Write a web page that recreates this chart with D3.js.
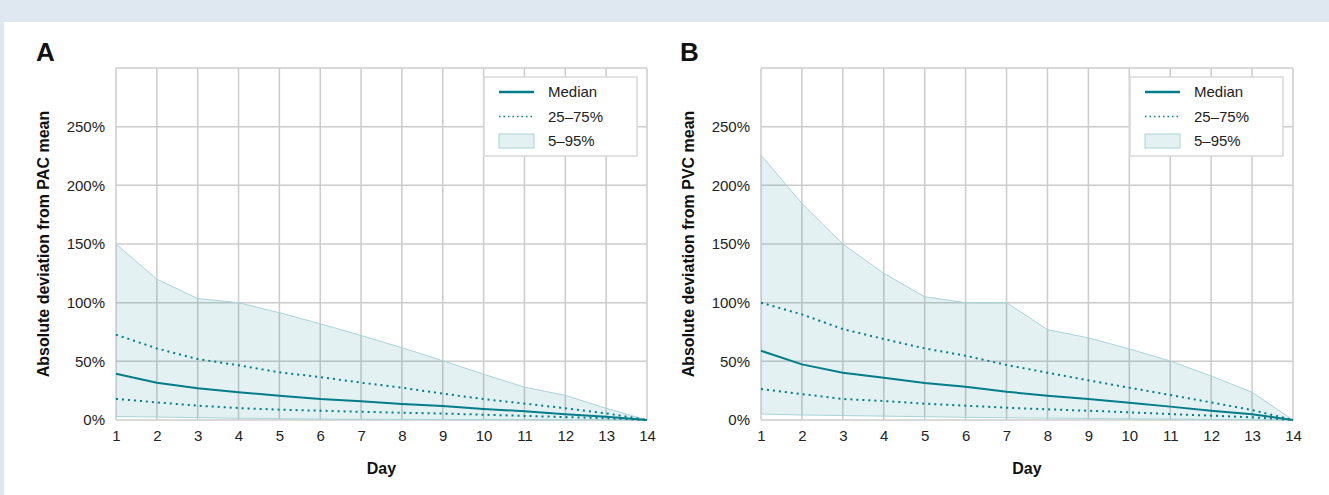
<!DOCTYPE html>
<html>
<head>
<meta charset="utf-8">
<script src="https://cdn.jsdelivr.net/npm/d3@7"></script>
<style>
  html, body { margin: 0; padding: 0; background: #dfe8f0; }
  body { width: 1329px; height: 495px; overflow: hidden; }
  text { font-family: "Liberation Sans", Arial, sans-serif; }
</style>
</head>
<body>
<script>
var days = [1, 2, 3, 4, 5, 6, 7, 8, 9, 10, 11, 12, 13, 14];
var yTicks = [0, 0.5, 1, 1.5, 2, 2.5];

// panel A, PAC (fractions of the mean)
var pacP5 = [0.03, 0.025, 0.02, 0.015, 0.012, 0.008, 0.006, 0.005, 0.004, 0.003, 0.002, 0.001, 0.001, 0];
var pacP25 = [0.18, 0.15, 0.122, 0.102, 0.088, 0.079, 0.07, 0.062, 0.055, 0.045, 0.035, 0.025, 0.015, 0];
var pacMedian = [0.395, 0.318, 0.27, 0.236, 0.207, 0.179, 0.159, 0.136, 0.119, 0.094, 0.074, 0.049, 0.028, 0];
var pacP75 = [0.727, 0.61, 0.52, 0.466, 0.406, 0.366, 0.318, 0.275, 0.225, 0.178, 0.14, 0.1, 0.057, 0];
var pacP95 = [1.5, 1.2, 1.035, 1.0, 0.914, 0.82, 0.72, 0.616, 0.505, 0.39, 0.28, 0.21, 0.1, 0];

// panel B, PVC
var pvcP5 = [0.051, 0.043, 0.038, 0.033, 0.028, 0.023, 0.019, 0.016, 0.013, 0.01, 0.008, 0.005, 0.003, 0];
var pvcP25 = [0.264, 0.221, 0.179, 0.162, 0.139, 0.122, 0.105, 0.091, 0.079, 0.065, 0.051, 0.037, 0.023, 0];
var pvcMedian = [0.59, 0.474, 0.403, 0.36, 0.315, 0.284, 0.241, 0.207, 0.179, 0.148, 0.114, 0.079, 0.048, 0];
var pvcP75 = [1.0, 0.9, 0.775, 0.69, 0.61, 0.548, 0.469, 0.403, 0.338, 0.275, 0.213, 0.15, 0.085, 0];
var pvcP95 = [2.257, 1.846, 1.5, 1.25, 1.05, 1.0, 1.0, 0.77, 0.7, 0.605, 0.503, 0.375, 0.236, 0];

var legendLabels = ["Median", "25\u201375%", "5\u201395%"];

const teal = "#007d88",
      bandFill = "rgba(0,125,136,0.11)",
      bandStroke = "#a9d4d8",
      gridCol = "#cccccc";

var svg = d3.select("body")
    .append("svg")
    .attr("width", 1329)
    .attr("height", 495);

// white card
svg.append("rect")
    .attr("x", 4)
    .attr("y", 22)
    .attr("width", 1325)
    .attr("height", 473)
    .attr("fill", "white");

function draw_panel(opts) {
    var x = d3.scaleLinear().domain([1, 14]).range([opts.left, opts.right]);
    var y = d3.scaleLinear().domain([0, 3]).range([420, 68]);

    var g = svg.append("g");

    // grid
    var grid = g.append("g");
    grid.selectAll("line.v")
        .data(days)
        .enter().append("line")
        .attr("x1", d => x(d)).attr("x2", d => x(d))
        .attr("y1", y(0)).attr("y2", y(3))
        .attr("stroke", gridCol).attr("stroke-width", 1.5);
    grid.selectAll("line.h")
        .data(yTicks.concat([3]))
        .enter().append("line")
        .attr("x1", x(1)).attr("x2", x(14))
        .attr("y1", d => y(d)).attr("y2", d => y(d))
        .attr("stroke", gridCol).attr("stroke-width", 1.5);

    // 5-95 band
    var area = d3.area()
        .x((d, i) => x(days[i]))
        .y0((d, i) => y(opts.p5[i]))
        .y1(d => y(d));
    g.append("path")
        .datum(opts.p95)
        .attr("d", area)
        .attr("fill", bandFill)
        .attr("stroke", "none");

    var line = d3.line().x((d, i) => x(days[i])).y(d => y(d));
    [opts.p95, opts.p5].forEach(function (s) {
        g.append("path")
            .datum(s)
            .attr("d", line)
            .attr("fill", "none")
            .attr("stroke", bandStroke)
            .attr("stroke-width", 1);
    });

    [opts.p25, opts.p75].forEach(function (s) {
        g.append("path")
            .datum(s)
            .attr("d", line)
            .attr("fill", "none")
            .attr("stroke", teal)
            .attr("stroke-width", 2)
            .attr("stroke-dasharray", "2,4");
    });

    g.append("path")
        .datum(opts.median)
        .attr("d", line)
        .attr("fill", "none")
        .attr("stroke", teal)
        .attr("stroke-width", 2);

    // axes
    var xAxis = g.append("g")
        .attr("transform", "translate(0," + (y(0) + 7) + ")")
        .call(d3.axisBottom(x).tickValues(days).tickSize(0).tickFormat(d3.format("d")));
    xAxis.select(".domain").remove();
    xAxis.attr("font-size", 15);
    xAxis.selectAll("text")
        .attr("fill", "#222")
        .attr("font-family", '"Liberation Sans", Arial, sans-serif');

    var yAxis = g.append("g")
        .attr("transform", "translate(" + (x(1) - 8) + ",0)")
        .call(d3.axisLeft(y).tickValues(yTicks).tickSize(0).tickFormat(d3.format(".0%")));
    yAxis.select(".domain").remove();
    yAxis.attr("font-size", 15);
    yAxis.selectAll("text")
        .attr("fill", "#222")
        .attr("font-family", '"Liberation Sans", Arial, sans-serif');

    // titles
    g.append("text")
        .text(opts.letter)
        .attr("x", opts.letterX)
        .attr("y", 61)
        .attr("font-size", "26px")
        .attr("font-weight", "bold")
        .attr("fill", "#111");

    g.append("text")
        .text("Day")
        .attr("x", (x(1) + x(14)) / 2)
        .attr("y", 474)
        .attr("text-anchor", "middle")
        .attr("font-size", "16px")
        .attr("font-weight", "bold")
        .attr("fill", "#111");

    g.append("text")
        .text(opts.yLabel)
        .attr("transform", "translate(" + opts.yLabelX + "," + ((y(0) + y(3)) / 2) + ") rotate(-90)")
        .attr("text-anchor", "middle")
        .attr("font-size", "16px")
        .attr("font-weight", "bold")
        .attr("fill", "#111");

    // legend
    var lg = g.append("g")
        .attr("transform", "translate(" + (x(14) - 163) + ",77)");
    lg.append("rect")
        .attr("x", 0).attr("y", 0)
        .attr("width", 153).attr("height", 79)
        .attr("fill", "white")
        .attr("stroke", "#d9d9d9")
        .attr("stroke-width", 1.5);

    legendLabels.forEach(function (lab, i) {
        var cy = 15 + i * 24.5;
        if (i == 0) {
            lg.append("line")
                .attr("x1", 15).attr("x2", 50)
                .attr("y1", cy).attr("y2", cy)
                .attr("stroke", teal).attr("stroke-width", 2.5);
        } else if (i == 1) {
            lg.append("line")
                .attr("x1", 15).attr("x2", 50)
                .attr("y1", cy).attr("y2", cy)
                .attr("stroke", teal).attr("stroke-width", 1.5)
                .attr("stroke-dasharray", "1.5,3");
        } else {
            lg.append("rect")
                .attr("x", 15).attr("y", cy - 7)
                .attr("width", 35).attr("height", 14)
                .attr("fill", bandFill)
                .attr("stroke", bandStroke);
        }
        lg.append("text")
            .text(lab)
            .attr("x", 64)
            .attr("y", cy + 5)
            .attr("font-size", "15px")
            .attr("fill", "#222");
    });
}

draw_panel({
    left: 116, right: 647,
    letter: "A", letterX: 36, yLabelX: 49,
    yLabel: "Absolute deviation from PAC mean",
    p5: pacP5, p25: pacP25, median: pacMedian, p75: pacP75, p95: pacP95
});

draw_panel({
    left: 761, right: 1293,
    letter: "B", letterX: 680, yLabelX: 694,
    yLabel: "Absolute deviation from PVC mean",
    p5: pvcP5, p25: pvcP25, median: pvcMedian, p75: pvcP75, p95: pvcP95
});
</script>
</body>
</html>
